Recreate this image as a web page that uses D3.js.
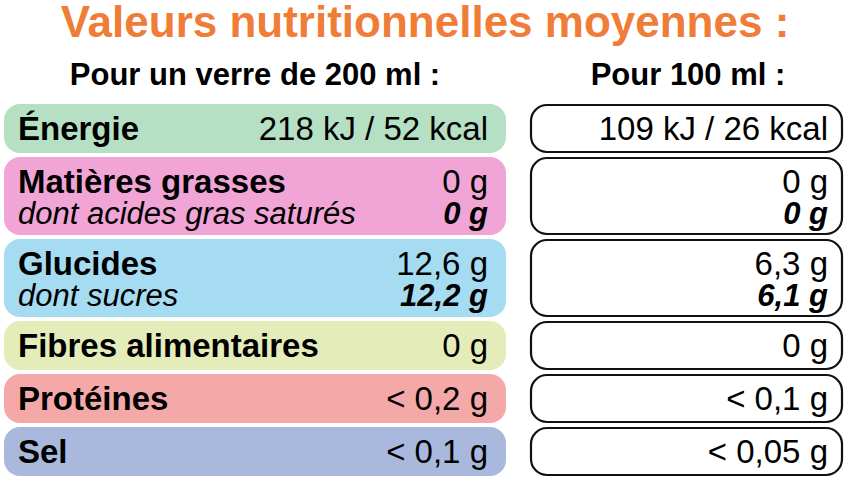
<!DOCTYPE html><html><head><meta charset="utf-8"><script src="https://cdn.jsdelivr.net/npm/d3@7"></script>
<style>body{margin:0;background:#fff}text{font-family:"Liberation Sans Narrow","Liberation Sans",Arial,sans-serif;font-stretch:condensed}</style></head><body>
<script>
const title="Valeurs nutritionnelles moyennes :";
const headers=["Pour un verre de 200 ml :","Pour 100 ml :"];
const names=["Énergie","Matières grasses","Glucides","Fibres alimentaires","Protéines","Sel"];
const subNames=[null,"dont acides gras saturés","dont sucres",null,null,null];
const per200=["218 kJ / 52 kcal","0 g","12,6 g","0 g","< 0,2 g","< 0,1 g"];
const per200sub=[null,"0 g","12,2 g",null,null,null];
const per100=["109 kJ / 26 kcal","0 g","6,3 g","0 g","< 0,1 g","< 0,05 g"];
const per100sub=[null,"0 g","6,1 g",null,null,null];
const colors=["#b5e0c3","#f0a5d6","#a6dcf1","#e4ecba","#f4a9a8","#a9b9dd"];
const W=848,H=480;
const svg=d3.select("body").append("svg").attr("width",W).attr("height",H);
svg.append("text").attr("x",425).attr("y",37).attr("text-anchor","middle").attr("font-size",44).attr("font-weight","bold").attr("fill","#f07d37").text(title);
svg.append("text").attr("x",255).attr("y",85).attr("text-anchor","middle").attr("font-size",31).attr("font-weight","bold").text(headers[0]);
svg.append("text").attr("x",688).attr("y",85).attr("text-anchor","middle").attr("font-size",31).attr("font-weight","bold").text(headers[1]);
const hs=names.map((d,i)=>subNames[i]?78:49);
const gap=4,y0=104;
let acc=y0;const ys=hs.map(hh=>{const s=acc;acc+=hh+gap;return s;});
const y=i=>ys[i], h=i=>hs[i];
const g=svg.selectAll("g.row").data(names).join("g").attr("class","row");
g.append("rect").attr("x",4).attr("y",(d,i)=>y(i)).attr("width",502).attr("height",(d,i)=>h(i)).attr("rx",16).attr("fill",(d,i)=>colors[i]);
g.append("rect").attr("x",531).attr("y",(d,i)=>y(i)+1).attr("width",311).attr("height",(d,i)=>h(i)-2).attr("rx",16).attr("fill","#fff").attr("stroke","#111").attr("stroke-width",2.2);
const fs=33;
const base=i=>y(i)+36;
g.append("text").attr("x",18).attr("y",(d,i)=>base(i)).attr("font-size",fs).attr("font-weight","bold").text(d=>d);
g.append("text").attr("x",488).attr("y",(d,i)=>base(i)).attr("text-anchor","end").attr("font-size",fs).text((d,i)=>per200[i]);
g.append("text").attr("x",828).attr("y",(d,i)=>base(i)).attr("text-anchor","end").attr("font-size",fs).text((d,i)=>per100[i]);
g.filter((d,i)=>subNames[i]).each(function(d){const i=names.indexOf(d);const s=d3.select(this),yy=y(i)+67;
s.append("text").attr("x",18).attr("y",yy).attr("font-size",31).attr("font-style","italic").text(subNames[i]);
s.append("text").attr("x",488).attr("y",yy).attr("text-anchor","end").attr("font-size",31).attr("font-style","italic").attr("font-weight","bold").text(per200sub[i]);
s.append("text").attr("x",828).attr("y",yy).attr("text-anchor","end").attr("font-size",31).attr("font-style","italic").attr("font-weight","bold").text(per100sub[i]);});
</script></body></html>
